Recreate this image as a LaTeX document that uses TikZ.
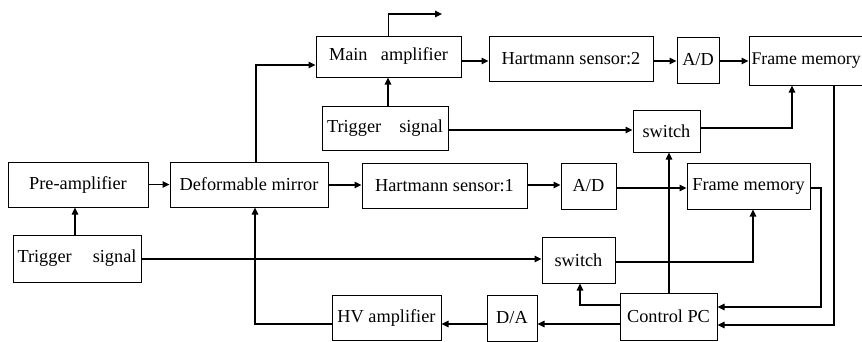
\documentclass[tikz,border=0pt]{standalone}
\usepackage{fontspec}
\setmainfont{Liberation Serif}
\usetikzlibrary{arrows.meta}
\begin{document}
\begin{tikzpicture}[x=1pt,y=-1pt,
  box/.style={draw, line width=1pt, inner sep=0pt, font=\fontsize{18.3}{20}\selectfont},
  conn/.style={line width=1.1pt, -{Triangle[length=7pt,width=6.5pt]}}]
\useasboundingbox (0,0) rectangle (862,341);
\clip (0,0) rectangle (862,341);
% boxes
\node[box, minimum width=145pt, minimum height=41pt] (mainamp) at (388.5,56.5) {\makebox[119pt][s]{Main amplifier}};
\node[box, minimum width=164pt, minimum height=45pt] (hs2) at (571,58.5) {Hartmann sensor:2};
\node[box, minimum width=42pt, minimum height=46pt] (ad2) at (698,60) {A/D};
\node[box, minimum width=131pt, minimum height=49pt] (fm2) at (814.5,60.5) {\makebox[131pt][l]{\hspace{2.5pt}{\fontsize{17.8}{20}\selectfont Frame memory}}};
\node[box, minimum width=126pt, minimum height=44pt] (trig2) at (385,128) {\makebox[116pt][s]{Trigger signal}};
\node[box, minimum width=67pt, minimum height=42pt] (sw2) at (666.5,131) {switch};
\node[box, minimum width=140pt, minimum height=45pt] (pre) at (78,184.5) {Pre-amplifier};
\node[box, minimum width=158pt, minimum height=45pt] (dm) at (249,184.5) {Deformable mirror};
\node[box, minimum width=165pt, minimum height=45pt] (hs1) at (444.5,185.5) {Hartmann sensor:1};
\node[box, minimum width=55pt, minimum height=46pt] (ad1) at (588.5,186) {A/D};
\node[box, minimum width=123pt, minimum height=46pt] (fm1) at (748.5,186) {Frame memory};
\node[box, minimum width=128pt, minimum height=47pt] (trig1) at (77,258.5) {\makebox[119pt][s]{Trigger signal}};
\node[box, minimum width=73pt, minimum height=46pt] (sw1) at (578.5,260) {switch};
\node[box, minimum width=97pt, minimum height=47pt] (ctrl) at (668.5,316.5) {Control PC};
\node[box, minimum width=50pt, minimum height=46pt] (da) at (512,318) {D/A};
\node[box, minimum width=109pt, minimum height=45pt] (hv) at (386.5,317.5) {HV amplifier};
% connectors
\coordinate (out) at (442,14);
\draw[conn] (mainamp.north) |- (out);
\draw[conn] (dm.north -| 256,0) |- (mainamp.west |- 0,65);
\draw[conn] (mainamp.east |- 0,61) -- (hs2.west |- 0,61);
\draw[conn] (hs2.east |- 0,61) -- (ad2.west |- 0,61);
\draw[conn] (ad2.east |- 0,61) -- (fm2.west |- 0,61);
\draw[conn] (trig2.north -| 388,0) -- (mainamp.south -| 388,0);
\draw[conn] (trig2.east |- 0,130) -- (sw2.west |- 0,130);
\draw[conn] (sw2.east |- 0,128) -| (fm2.south -| 792,0);
\draw[conn] (fm2.south -| 834,0) |- (ctrl.east |- 0,325);
\draw[conn] (pre.east) -- (dm.west);
\draw[conn] (trig1.north -| 75,0) -- (pre.south -| 75,0);
\draw[conn] (dm.east |- 0,185) -- (hs1.west |- 0,185);
\draw[conn] (hs1.east |- 0,185) -- (ad1.west |- 0,185);
\draw[conn] (ad1.east |- 0,188) -- (fm1.west |- 0,188);
\draw[conn] (fm1.east |- 0,188) -- (821,188) |- (ctrl.east |- 0,307);
\draw[conn] (trig1.east |- 0,259) -- (sw1.west |- 0,259);
\draw[conn] (sw1.east |- 0,262) -| (fm1.south -| 753,0);
\draw[conn] (ctrl.north -| 669,0) -- (sw2.south -| 669,0);
\draw[conn] (ctrl.west |- 0,305) -| (sw1.south -| 580,0);
\draw[conn] (ctrl.west |- 0,324) -- (da.east |- 0,324);
\draw[conn] (da.west |- 0,324) -- (hv.east |- 0,324);
\draw[conn] (hv.west |- 0,324) -| (dm.south -| 255,0);
\end{tikzpicture}
\end{document}
